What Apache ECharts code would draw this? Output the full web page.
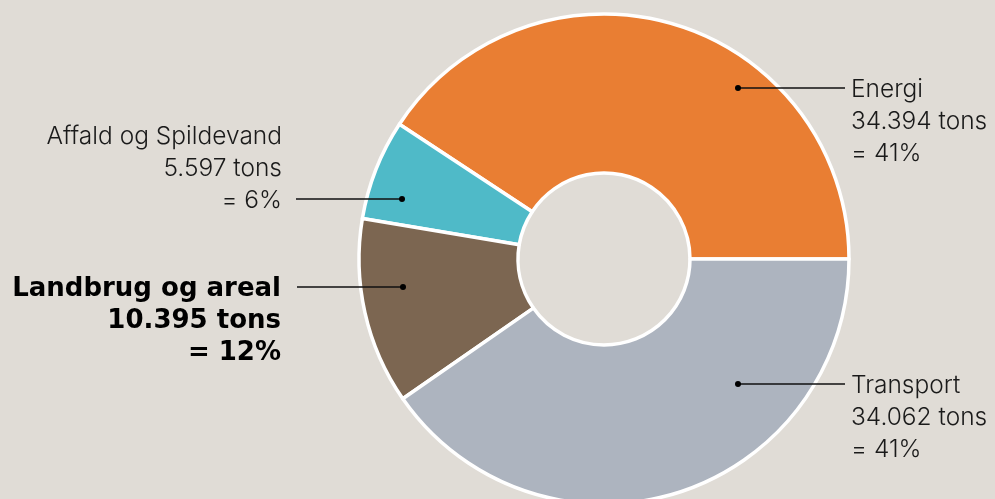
<!DOCTYPE html>
<html>
<head>
<meta charset="utf-8">
<script src="https://cdn.jsdelivr.net/npm/echarts@6/dist/echarts.min.js"></script>
<style>
html,body{margin:0;padding:0;background:#E0DCD6;}
#chart{width:995px;height:499px;}
</style>
</head>
<body>
<div id="chart"></div>
<script>
// ---- data ----
const categories = ['Energi', 'Affald og Spildevand', 'Landbrug og areal', 'Transport'];
const tons = [34394, 5597, 10395, 34062];
const tonsText = ['34.394', '5.597', '10.395', '34.062'];
const pctText = ['41%', '6%', '12%', '41%'];
const colors = ['#E97E33', '#4FBAC8', '#7C6651', '#ADB4BF'];

// ---- layout (positions relative to the pie centre) ----
const cx = 604, cy = 259;
const layouts = [
  { dot: [134, -171], lineEnd: 241, textX: 247, align: 'left', anchorLine: 0 },
  { dot: [-202, -60], lineEnd: -308, textX: -322, align: 'right', anchorLine: 2 },
  { dot: [-201, 28], lineEnd: -307, textX: -323, align: 'right', anchorLine: 0 },
  { dot: [134, 125], lineEnd: 241, textX: 247, align: 'left', anchorLine: 0 }
];
const lineH = 32;
const textShift = 2;

const chart = echarts.init(document.getElementById('chart'));

const data = categories.map((name, i) => {
  const d = { name: name, value: tons[i], itemStyle: { color: colors[i] } };
  if (i === 2) {
    d.label = { fontFamily: 'DejaVu Sans', fontWeight: 'bold', fontSize: 26, color: '#000000' };
  }
  return d;
});

const guideGraphics = [];
layouts.forEach(L => {
  const y = cy + L.dot[1];
  guideGraphics.push({
    type: 'line',
    shape: { x1: cx + L.dot[0], y1: y, x2: cx + L.lineEnd, y2: y },
    style: { stroke: '#111111', lineWidth: 1.3 },
    z: 100
  });
  guideGraphics.push({
    type: 'circle',
    shape: { cx: cx + L.dot[0], cy: y, r: 3 },
    style: { fill: '#000000' },
    z: 101
  });
});

chart.setOption({
  backgroundColor: '#E0DCD6',
  animation: false,
  series: [{
    type: 'pie',
    center: [cx, cy],
    radius: [86, 245],
    startAngle: 0,
    clockwise: false,
    avoidLabelOverlap: false,
    itemStyle: { borderColor: '#ffffff', borderWidth: 3.5 },
    label: {
      show: true,
      position: 'outside',
      fontFamily: 'Inter',
      fontWeight: 300,
      fontSize: 24.5,
      lineHeight: lineH,
      color: '#1a1a1a',
      formatter: p => p.name + '\n' + tonsText[p.dataIndex] + ' tons\n= ' + pctText[p.dataIndex]
    },
    labelLine: { show: false },
    labelLayout: function (params) {
      const L = layouts[params.dataIndex];
      const y = cy + L.dot[1];
      const top = y - lineH / 2 - L.anchorLine * lineH + textShift;
      return {
        x: cx + L.textX,
        y: top,
        align: L.align,
        verticalAlign: 'top'
      };
    },
    data: data
  }],
  graphic: guideGraphics
});
</script>
</body>
</html>
